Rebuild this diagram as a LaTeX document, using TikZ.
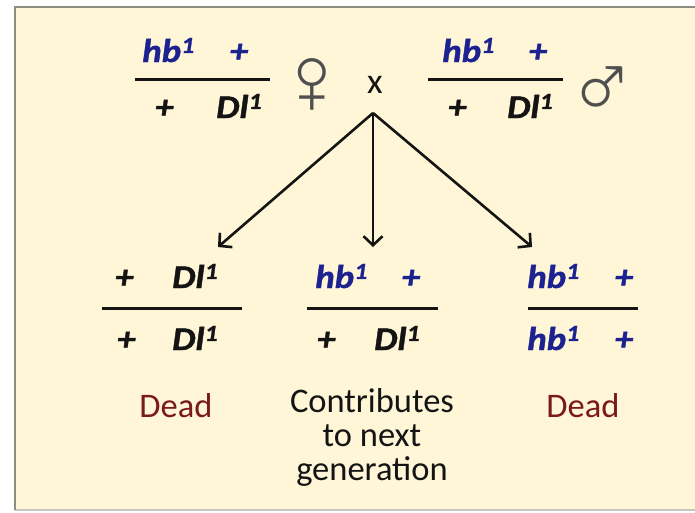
\documentclass[tikz,border=0pt]{standalone}
\usepackage{fontspec}
\setmainfont{Carlito}
\newfontfamily\symfont{Liberation Mono}
\newfontfamily\genofont[FakeStretch=1.12, FakeBold=1.2]{Carlito}
\usetikzlibrary{arrows.meta}
\definecolor{cream}{HTML}{FFF6D8}
\definecolor{framegray}{HTML}{8E8E80}
\definecolor{gblue}{HTML}{1C2390}
\definecolor{gblack}{HTML}{141414}
\definecolor{deadred}{HTML}{7A1A1A}
\newcommand{\gsup}{\textsuperscript{1}}
\newcommand{\hbrow}[1]{\makebox[#1pt][s]{hb\gsup\hfill+}}
\newcommand{\dlrow}[1]{\makebox[#1pt][s]{+\hfill Dl\gsup}}
\tikzset{
  geno/.style={anchor=base west, inner sep=0pt, font=\genofont\fontsize{33}{33}\selectfont\bfseries\itshape},
  blue/.style={text=gblue},
  blk/.style={text=gblack},
  fracline/.style={line width=3pt, draw=gblack},
  cross/.style={draw=gblack, line width=2.6pt, -{Straight Barb[length=9pt,width=19pt,line width=2.6pt]}},
  label/.style={font=\fontsize{34.5}{34}\selectfont, align=center, inner sep=0pt},
  sexsym/.style={font=\symfont\fontsize{96}{96}\selectfont, text=gblack!75, inner sep=0pt}
}
\begin{document}
\begin{tikzpicture}[x=1pt,y=-1pt]
\useasboundingbox (0,0) rectangle (695,512);
\fill[white] (0,0) rectangle (695,512);
\fill[cream] (15,7) rectangle (705,510);
\draw[draw=framegray!50, line width=1.5pt] (15,510) -- (705,510);
\draw[draw=framegray, line width=2pt] (705,7) -- (15,7) -- (15,510);

% top left parent
\node[geno,blue] (tln) at (142,62) {\hbrow{106}};
\node[geno,blk] (tld) at (155,118) {\dlrow{107}};
\draw[fracline] (135,79) coordinate (tla) -- (270,79) coordinate (tlb);
\node[sexsym] (fem) at (312,86) {♀};

\node[font=\fontsize{36}{36}\selectfont, text=gblack, inner sep=0pt] (x) at (375,85) {x};

% top right parent
\node[geno,blue] (trn) at (442,62) {\hbrow{105}};
\node[geno,blk] (trd) at (448,118) {\dlrow{105}};
\draw[fracline] (428,79) coordinate (tra) -- (563,79) coordinate (trb);
\node[sexsym] (mal) at (603,90) {♂};

% arrows
\coordinate (apex) at (373,113);
\coordinate (tipL) at (218,247);
\coordinate (tipM) at (373,247);
\coordinate (tipR) at (532,247);
\draw[cross] (apex) -- (tipL);
\draw[cross] (apex) -- (tipM);
\draw[cross] (apex) -- (tipR);

% bottom left
\node[geno,blk] (bln) at (115,288) {\dlrow{103}};
\node[geno,blk] (bld) at (117,350) {\dlrow{101}};
\draw[fracline] (102,308) coordinate (bla) -- (242,308) coordinate (blb);

% bottom middle
\node[geno,blue] (bmn) at (315,288) {\hbrow{105}};
\node[geno,blk] (bmd) at (317,350) {\dlrow{103}};
\draw[fracline] (307,308) coordinate (bma) -- (438,308) coordinate (bmb);

% bottom right
\node[geno,blue] (brn) at (527,288) {\hbrow{106}};
\node[geno,blue] (brd) at (527,350) {\hbrow{106}};
\draw[fracline] (528,308) coordinate (bra) -- (638,308) coordinate (brb);

% labels
\node[label, text=deadred, anchor=base] (deadL) at (176,417) {Dead};
\node[label, text=gblack, anchor=north] (contrib) at (372,388) {Contributes\\to next\\generation};
\node[label, text=deadred, anchor=base] (deadR) at (583,417) {Dead};
\end{tikzpicture}
\end{document}
